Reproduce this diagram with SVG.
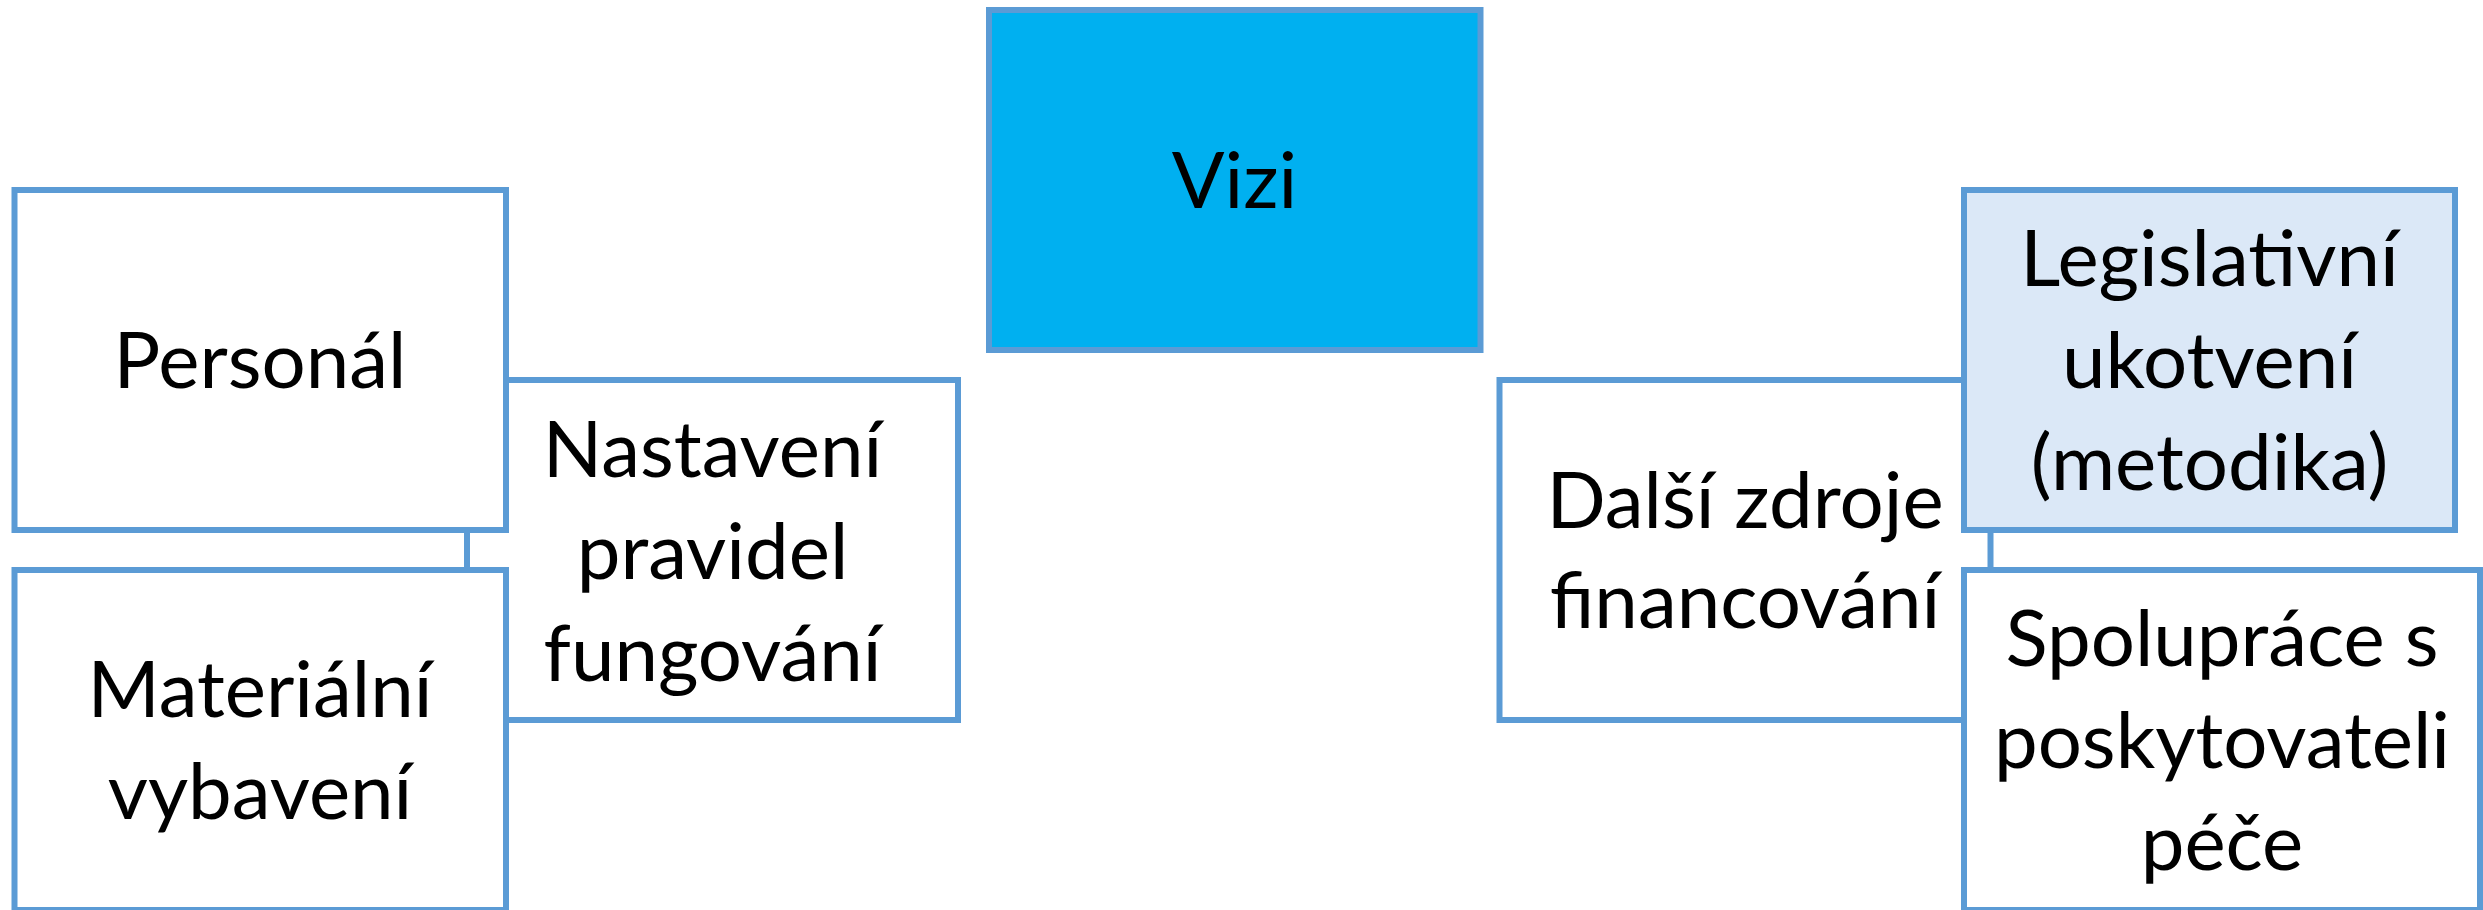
<svg xmlns="http://www.w3.org/2000/svg" width="2483" height="910" viewBox="0 0 2483 910">
  <style>
    .box { fill: #ffffff; stroke: #5b9bd5; stroke-width: 6; }
    .vizi { fill: #00b0f0; stroke: #5b9bd5; stroke-width: 6; }
    .tex { fill: #dbe8f7; stroke: #5b9bd5; stroke-width: 6; }
    .lbl { font-family: Lato, "Open Sans", "Liberation Sans", sans-serif; font-size: 78px; fill: #000000; text-anchor: middle; }
  </style>
  <rect width="2483" height="910" fill="#ffffff"/>

  <g id="nastaveni">
    <rect class="box" x="467" y="380" width="491" height="340"/>
    <text class="lbl" x="712.5" y="477">Nastavení</text>
    <text class="lbl" x="712.5" y="579">pravidel</text>
    <text class="lbl" x="712.5" y="681">fungování</text>
  </g>

  <g id="personal">
    <rect class="box" x="14.5" y="190" width="491.5" height="340"/>
    <text class="lbl" x="260" y="388">Personál</text>
  </g>

  <g id="materialni">
    <rect class="box" x="14.5" y="570" width="491.5" height="340"/>
    <text class="lbl" x="260" y="717">Materiální</text>
    <text class="lbl" x="260" y="819">vybavení</text>
  </g>

  <g id="vizi">
    <rect class="vizi" x="989" y="10" width="491.5" height="340"/>
    <text class="lbl" x="1234.5" y="208">Vizi</text>
  </g>

  <g id="dalsi">
    <rect class="box" x="1499.5" y="380" width="491" height="340"/>
    <text class="lbl" x="1745" y="528">Další zdroje</text>
    <text class="lbl" x="1745" y="628">financování</text>
  </g>

  <g id="legislativni">
    <rect class="tex" x="1964" y="190" width="491" height="340"/>
    <text class="lbl" x="2209.5" y="286">Legislativní</text>
    <text class="lbl" x="2209.5" y="388">ukotvení</text>
    <text class="lbl" x="2209.5" y="490">(metodika)</text>
  </g>

  <g id="spoluprace">
    <rect class="box" x="1964" y="570" width="516" height="340"/>
    <text class="lbl" x="2222" y="666">Spolupráce s</text>
    <text class="lbl" x="2222" y="768">poskytovateli</text>
    <text class="lbl" x="2222" y="870">péče</text>
  </g>
</svg>
